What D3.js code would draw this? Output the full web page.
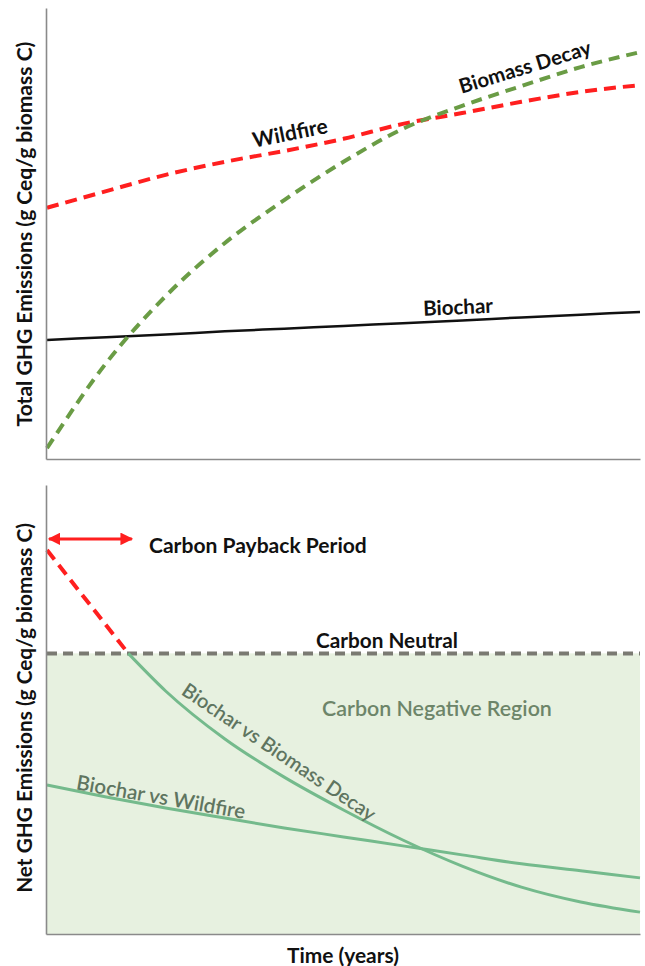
<!DOCTYPE html>
<html>
<head>
<meta charset="utf-8">
<script src="https://cdn.jsdelivr.net/npm/d3@7"></script>
<style>
  html, body { margin: 0; padding: 0; background: #fff; }
  svg { display: block; }
  text { font-family: 'Lato', 'Open Sans', sans-serif; }
</style>
</head>
<body>
<svg id="chart" width="645" height="966"></svg>
<script>
// ---------- DATA ----------
const years = [0, 10, 20, 30, 40, 50, 60, 70, 80, 90, 100];

// Top panel: total GHG emissions (arbitrary units, 0-100)
const wildfireTotal = [55.7, 59.4, 63.0, 65.9, 68.3, 71.0, 74.3, 76.7, 79.2, 81.4, 82.9];
const decayTotal    = [2.4, 21.3, 36.1, 47.9, 57.4, 65.9, 73.2, 78.3, 82.7, 86.9, 90.2];
const biocharTotal  = [26.4, 27.0, 27.6, 28.3, 28.9, 29.5, 30.1, 30.7, 31.4, 32.0, 32.6];

// Bottom panel: net GHG emissions (0 = carbon neutral)
const paybackYears  = [0, 13.7];
const paybackNet    = [36.8, 0];
const decayNetYears = [13.7, 20, 30, 40, 50, 60, 70, 80, 90, 100];
const decayNet      = [0, -13.4, -30.5, -44.1, -55.8, -66.5, -75.8, -83.3, -88.6, -92.2];
const wildfireNet   = [-46.9, -51.2, -55.1, -58.7, -62.2, -65.4, -68.6, -71.8, -75.0, -77.5, -80.0];
const carbonNeutral = 0;
const arrowLevel    = 40.8;
const arrowYears    = [0, 14.3];

// ---------- LAYOUT ----------
const svg = d3.select('#chart');
const x = d3.scaleLinear().domain([0, 100]).range([47, 640]);
const yTop = d3.scaleLinear().domain([0, 100]).range([459, 8]);
const yBot = d3.scaleLinear().domain([-100, 60]).range([934, 485]);

const RED = '#ff1f1f', GREEN_D = '#6a9c45', GRAY_D = '#7a7a72', NET = '#74ba8c';
const LABEL_GREEN = '#5f7560';

function fit(sel, target) {
  const base = 20;
  sel.attr('font-size', base);
  const w = sel.node().getComputedTextLength();
  sel.attr('font-size', base * target / w);
  return sel;
}
function label(txt, cx, cy, rot, width, opts = {}) {
  const t = svg.append('text')
    .attr('transform', `translate(${cx},${cy}) rotate(${rot})`)
    .attr('text-anchor', opts.anchor || 'middle')
    .attr('dy', opts.dy || '0.35em')
    .attr('fill', opts.fill || '#111')
    .attr('font-weight', opts.weight || 700)
    .text(txt);
  fit(t, width);
  return t;
}

// ---------- TOP PANEL ----------
const lineTop = (vals) => d3.line()
  .x((d, i) => x(years[i])).y(d => yTop(d)).curve(d3.curveMonotoneX)(vals);

svg.append('path').attr('d', lineTop(biocharTotal))
  .attr('fill', 'none').attr('stroke', '#111').attr('stroke-width', 2.5);
svg.append('path').attr('d', lineTop(wildfireTotal))
  .attr('fill', 'none').attr('stroke', RED).attr('stroke-width', 4)
  .attr('stroke-dasharray', '12,7');
svg.append('path').attr('d', lineTop(decayTotal))
  .attr('fill', 'none').attr('stroke', GREEN_D).attr('stroke-width', 4)
  .attr('stroke-dasharray', '11,7');

const axTopL = svg.append('g').attr('transform', `translate(46,0)`)
  .call(d3.axisLeft(d3.scaleLinear().range([459, 8])).tickValues([]).tickSizeOuter(0));
const axTopB = svg.append('g').attr('transform', `translate(0,459)`)
  .call(d3.axisBottom(d3.scaleLinear().range([46, 640])).tickValues([]).tickSizeOuter(0));
[axTopL, axTopB].forEach(g => g.select('.domain').attr('stroke', '#8a8a8a').attr('stroke-width', 1.6));

label('Wildfire', 290, 133, -11.5, 76);
label('Biomass Decay', 525, 67, -17, 137);
label('Biochar', 458, 307, -2.5, 70);
label('Total GHG Emissions (g Ceq/g biomass C)', 25, 234, -90, 385);

// ---------- BOTTOM PANEL ----------
svg.append('rect')
  .attr('x', x(0) - 1).attr('width', x(100) - x(0) + 1)
  .attr('y', yBot(carbonNeutral)).attr('height', yBot(-100) - yBot(carbonNeutral))
  .attr('fill', '#e7f1e0');

svg.append('line')
  .attr('x1', x(0)).attr('x2', x(100))
  .attr('y1', yBot(carbonNeutral)).attr('y2', yBot(carbonNeutral))
  .attr('stroke', GRAY_D).attr('stroke-width', 4).attr('stroke-dasharray', '10,6');

const lineXY = d3.line().x(d => x(d[0])).y(d => yBot(d[1])).curve(d3.curveMonotoneX);

svg.append('path').attr('d', lineXY(d3.zip(years, wildfireNet)))
  .attr('fill', 'none').attr('stroke', NET).attr('stroke-width', 3);
svg.append('path').attr('d', lineXY(d3.zip(decayNetYears, decayNet)))
  .attr('fill', 'none').attr('stroke', NET).attr('stroke-width', 3);
svg.append('path').attr('d', lineXY(d3.zip(paybackYears, paybackNet)))
  .attr('fill', 'none').attr('stroke', RED).attr('stroke-width', 4)
  .attr('stroke-dasharray', '12,7');

// Arrow
const defs = svg.append('defs');
defs.append('marker').attr('id', 'ah').attr('viewBox', '0 0 10 10')
  .attr('refX', 9).attr('refY', 5).attr('markerWidth', 4.2).attr('markerHeight', 4.2)
  .attr('orient', 'auto-start-reverse')
  .append('path').attr('d', 'M0,0 L10,5 L0,10 Z').attr('fill', RED);
svg.append('line')
  .attr('x1', x(arrowYears[0]) + 2).attr('x2', x(arrowYears[1]))
  .attr('y1', yBot(arrowLevel)).attr('y2', yBot(arrowLevel))
  .attr('stroke', RED).attr('stroke-width', 3)
  .attr('marker-start', 'url(#ah)').attr('marker-end', 'url(#ah)');

const axBotL = svg.append('g').attr('transform', `translate(46,0)`)
  .call(d3.axisLeft(d3.scaleLinear().range([934, 485])).tickValues([]).tickSizeOuter(0));
const axBotB = svg.append('g').attr('transform', `translate(0,934)`)
  .call(d3.axisBottom(d3.scaleLinear().range([46, 640])).tickValues([]).tickSizeOuter(0));
[axBotL, axBotB].forEach(g => g.select('.domain').attr('stroke', '#8a8a8a').attr('stroke-width', 1.6));

label('Carbon Payback Period', 149, 546, 0, 218, { anchor: 'start', dy: 0 });
label('Carbon Neutral', 316, 641, 0, 142, { anchor: 'start', dy: 0 });
label('Carbon Negative Region', 322, 708, 0, 230, { anchor: 'start', dy: 0, fill: '#6d8569', weight: 600 });
label('Biochar vs Biomass Decay', 279, 752, 34, 229, { fill: LABEL_GREEN, weight: 600 });
label('Biochar vs Wildfire', 161, 797, 10, 171, { fill: LABEL_GREEN, weight: 600 });
label('Net GHG Emissions (g Ceq/g biomass C)', 25, 708, -90, 370);
label('Time (years)', 343, 956, 0, 112, { dy: 0 });
</script>
</body>
</html>
